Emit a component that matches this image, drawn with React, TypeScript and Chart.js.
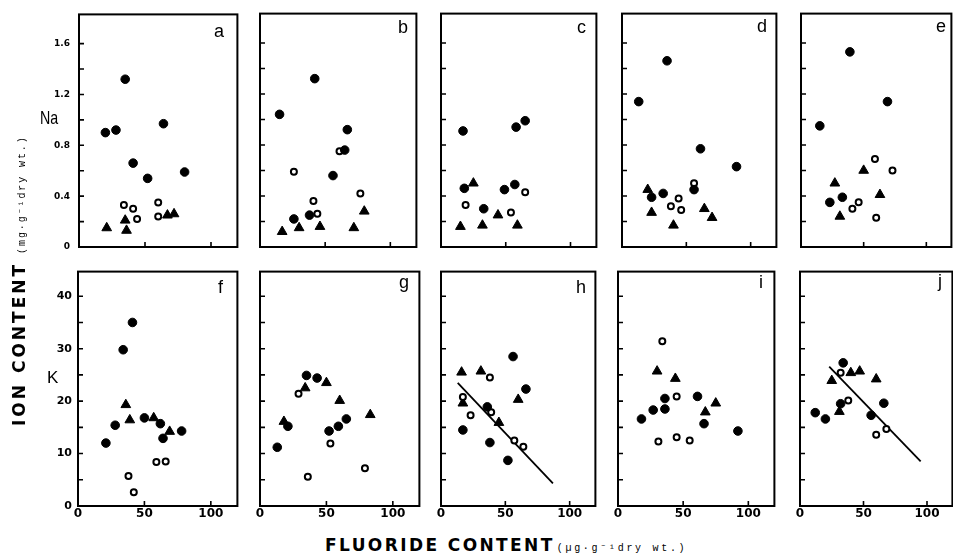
import React, { useEffect, useRef } from "react";
import { Chart, registerables } from "chart.js";
Chart.register(...registerables);

type Pt = [number, number];

// ---- axes ----
const xRange: Pt = [0, 120];
const xTickValues = [0, 50, 100];
const xTickLabels = ["0", "50", "100"];
const naRange: Pt = [0, 1.83];
const naTickValues = [0, 0.2, 0.4, 0.6, 0.8, 1.0, 1.2, 1.4, 1.6];
const naTickLabels = ["0", "0.4", "0.8", "1.2", "1.6"];
const kRange: Pt = [0, 44.7];
const kTickValues = [0, 5, 10, 15, 20, 25, 30, 35, 40];
const kTickLabels = ["0", "10", "20", "30", "40"];

// ---- Na panels (a-e) ----
const aFilled: Pt[] = [[35, 1.32], [20, 0.9], [28, 0.92], [64, 0.97], [41, 0.66], [52, 0.54], [80, 0.59]];
const aOpen: Pt[] = [[34, 0.33], [41, 0.3], [44, 0.22], [60, 0.35], [60, 0.24]];
const aTri: Pt[] = [[21, 0.15], [35, 0.21], [36, 0.13], [67, 0.25], [72, 0.26]];

const bFilled: Pt[] = [[42, 1.32], [15, 1.04], [67, 0.92], [65, 0.76], [56, 0.56], [26, 0.22], [38, 0.25]];
const bOpen: Pt[] = [[26, 0.59], [41, 0.36], [44, 0.26], [77, 0.42], [61, 0.75]];
const bTri: Pt[] = [[17, 0.12], [30, 0.15], [46, 0.16], [72, 0.15], [80, 0.28]];

const cFilled: Pt[] = [[17, 0.91], [58, 0.94], [65, 0.99], [18, 0.46], [49, 0.45], [57, 0.49], [33, 0.3]];
const cOpen: Pt[] = [[19, 0.33], [65, 0.43], [54, 0.27]];
const cTri: Pt[] = [[25, 0.5], [15, 0.16], [32, 0.17], [44, 0.25], [59, 0.17]];

const dFilled: Pt[] = [[35, 1.46], [13, 1.14], [61, 0.77], [89, 0.63], [32, 0.42], [23, 0.39], [56, 0.45]];
const dOpen: Pt[] = [[56, 0.5], [44, 0.38], [38, 0.32], [46, 0.29]];
const dTri: Pt[] = [[20, 0.45], [23, 0.27], [40, 0.17], [64, 0.3], [70, 0.23]];

const eFilled: Pt[] = [[39, 1.53], [69, 1.14], [15, 0.95], [23, 0.35], [33, 0.39]];
const eOpen: Pt[] = [[59, 0.69], [73, 0.6], [46, 0.35], [41, 0.3], [60, 0.23]];
const eTri: Pt[] = [[27, 0.5], [50, 0.6], [63, 0.41], [31, 0.24]];

// ---- K panels (f-j) ----
const fFilled: Pt[] = [[41, 35.0], [34, 29.8], [21, 12.0], [28, 15.4], [50, 16.8], [62, 15.7], [64, 12.9], [78, 14.3]];
const fOpen: Pt[] = [[38, 5.7], [42, 2.6], [59, 8.4], [66, 8.5]];
const fTri: Pt[] = [[36, 19.3], [39, 16.4], [57, 16.8], [69, 14.2]];

const gFilled: Pt[] = [[13, 11.2], [21, 15.2], [35, 24.9], [43, 24.4], [52, 14.3], [59, 15.2], [65, 16.6]];
const gOpen: Pt[] = [[29, 21.4], [53, 11.9], [36, 5.6], [79, 7.2]];
const gTri: Pt[] = [[18, 16.1], [34, 22.5], [50, 23.5], [60, 20.1], [83, 17.4]];

const hFilled: Pt[] = [[56, 28.5], [66, 22.3], [17, 14.5], [36, 18.9], [38, 12.1], [52, 8.7]];
const hOpen: Pt[] = [[38, 24.5], [17, 20.8], [23, 17.3], [39, 17.9], [57, 12.5], [64, 11.3]];
const hTri: Pt[] = [[16, 25.5], [31, 25.7], [17, 19.6], [45, 15.9], [60, 20.3]];
const hFit: Pt[] = [[13, 23.5], [87, 4.3]];

const iFilled: Pt[] = [[18, 16.6], [27, 18.3], [36, 20.5], [36, 18.5], [61, 20.9], [66, 15.7], [92, 14.3]];
const iOpen: Pt[] = [[34, 31.4], [45, 20.9], [31, 12.3], [45, 13.1], [55, 12.5]];
const iTri: Pt[] = [[30, 25.7], [44, 24.3], [67, 17.9], [75, 19.6]];

const jFilled: Pt[] = [[12, 17.8], [20, 16.6], [34, 27.3], [56, 17.3], [66, 19.6], [32, 19.5]];
const jOpen: Pt[] = [[32, 25.4], [38, 20.1], [60, 13.6], [68, 14.7]];
const jTri: Pt[] = [[25, 23.9], [31, 18.0], [40, 25.4], [47, 25.7], [60, 24.2]];
const jFit: Pt[] = [[23, 26.6], [95, 8.5]];

interface PanelDef {
  letter: string;
  ion: "Na" | "K";
  filled: Pt[];
  open: Pt[];
  tri: Pt[];
  fit?: Pt[];
}

const panelDefs: PanelDef[] = [
  { letter: "a", ion: "Na", filled: aFilled, open: aOpen, tri: aTri },
  { letter: "b", ion: "Na", filled: bFilled, open: bOpen, tri: bTri },
  { letter: "c", ion: "Na", filled: cFilled, open: cOpen, tri: cTri },
  { letter: "d", ion: "Na", filled: dFilled, open: dOpen, tri: dTri },
  { letter: "e", ion: "Na", filled: eFilled, open: eOpen, tri: eTri },
  { letter: "f", ion: "K", filled: fFilled, open: fOpen, tri: fTri },
  { letter: "g", ion: "K", filled: gFilled, open: gOpen, tri: gTri },
  { letter: "h", ion: "K", filled: hFilled, open: hOpen, tri: hTri, fit: hFit },
  { letter: "i", ion: "K", filled: iFilled, open: iOpen, tri: iTri },
  { letter: "j", ion: "K", filled: jFilled, open: jOpen, tri: jTri, fit: jFit },
];

// ---- layout (pixels): plot box left, top, width, height ----
const boxes: number[][] = [
  [79, 14, 158, 233],
  [260, 14, 156, 233],
  [441, 14, 155, 233],
  [622, 14, 154, 233],
  [801, 14, 150, 233],
  [78, 272, 159, 234],
  [260, 272, 159, 234],
  [441, 272, 154, 234],
  [618, 272, 156, 234],
  [800, 272, 152, 234],
];
// panel letter positions (left, top)
const letterPos: number[][] = [
  [214, 22], [398, 18], [577, 18], [757, 17], [936, 17],
  [218, 278], [399, 273], [576, 278], [759, 273], [938, 272],
];

const PAD_L = 30;
const PAD_R = 2;
const PAD_T = 4;
const PAD_B = 20;

const framePlugin = {
  id: "frame",
  afterDraw(chart: any) {
    const { ctx, chartArea: a, scales } = chart;
    ctx.save();
    ctx.strokeStyle = "#000";
    ctx.lineWidth = 2;
    ctx.strokeRect(a.left, a.top, a.right - a.left, a.bottom - a.top);
    ctx.lineWidth = 1.6;
    ctx.beginPath();
    const ys = scales.y;
    ys.ticks.forEach((t: any) => {
      if (t.value <= ys.min || t.value >= ys.max) return;
      const py = ys.getPixelForValue(t.value);
      ctx.moveTo(a.left, py);
      ctx.lineTo(a.left + 5, py);
    });
    const xs = scales.x;
    xs.ticks.forEach((t: any) => {
      if (t.value <= xs.min || t.value >= xs.max) return;
      const px = xs.getPixelForValue(t.value);
      ctx.moveTo(px, a.bottom);
      ctx.lineTo(px, a.bottom - 5);
    });
    ctx.stroke();
    ctx.restore();
  },
};

const toXY = (pts: Pt[]) => pts.map(([x, y]) => ({ x, y }));

function makeConfig(def: PanelDef, showY: boolean, showX: boolean): any {
  const isNa = def.ion === "Na";
  const yVals = isNa ? naTickValues : kTickValues;
  const yLabels = isNa ? naTickLabels : kTickLabels;
  const yRange = isNa ? naRange : kRange;
  const fmtY = (v: number) => (isNa ? (v === 0 ? "0" : v.toFixed(1)) : String(v));

  const datasets: any[] = [
    {
      label: "filled",
      data: toXY(def.filled),
      pointStyle: "circle",
      pointRadius: 4.3,
      pointBackgroundColor: "#000",
      pointBorderColor: "#000",
      pointBorderWidth: 1,
    },
    {
      label: "open",
      data: toXY(def.open),
      pointStyle: "circle",
      pointRadius: 3,
      pointBackgroundColor: "#fff",
      pointBorderColor: "#000",
      pointBorderWidth: 2,
    },
    {
      label: "triangle",
      data: toXY(def.tri),
      pointStyle: "triangle",
      pointRadius: 5.6,
      pointBackgroundColor: "#000",
      pointBorderColor: "#000",
      pointBorderWidth: 1,
    },
  ];
  if (def.fit) {
    datasets.push({
      label: "fit",
      data: toXY(def.fit),
      showLine: true,
      borderColor: "#000",
      borderWidth: 1.8,
      pointRadius: 0,
      fill: false,
    });
  }

  return {
    type: "scatter",
    data: { datasets },
    options: {
      animation: false,
      responsive: false,
      maintainAspectRatio: false,
      devicePixelRatio: 1,
      events: [],
      layout: { padding: { top: PAD_T, right: PAD_R, left: 0, bottom: 0 } },
      plugins: { legend: { display: false }, tooltip: { enabled: false }, title: { display: false } },
      scales: {
        x: {
          type: "linear",
          min: xRange[0],
          max: xRange[1],
          grid: { display: false, drawTicks: false },
          border: { display: false },
          afterBuildTicks: (s: any) => {
            s.ticks = xTickValues.map((v) => ({ value: v }));
          },
          afterFit: (s: any) => {
            s.height = PAD_B;
          },
          ticks: {
            display: showX,
            padding: 1,
            autoSkip: false,
            maxRotation: 0,
            color: "#000",
            font: { family: "DejaVu Sans", weight: "bold", size: 12 },
            callback: (v: number) => {
              const i = xTickValues.indexOf(v);
              return i >= 0 ? xTickLabels[i] : "";
            },
          },
        },
        y: {
          type: "linear",
          min: yRange[0],
          max: yRange[1],
          grid: { display: false, drawTicks: false },
          border: { display: false },
          afterBuildTicks: (s: any) => {
            s.ticks = yVals.map((v) => ({ value: v }));
          },
          afterFit: (s: any) => {
            s.width = PAD_L;
          },
          ticks: {
            display: showY,
            padding: isNa ? 9 : 6,
            autoSkip: false,
            color: "#000",
            font: { family: "DejaVu Sans", weight: "bold", size: isNa ? 9 : 11 },
            callback: (v: number) => {
              const s = fmtY(v);
              return yLabels.includes(s) ? s : "";
            },
          },
        },
      },
    },
    plugins: [framePlugin],
  };
}

function Panel({ def, box, showY, showX }: { def: PanelDef; box: number[]; showY: boolean; showX: boolean }) {
  const ref = useRef<HTMLCanvasElement>(null);
  const [l, t, w, h] = box;
  const cw0 = w + PAD_L + PAD_R;
  const ch0 = h + PAD_T + PAD_B;
  useEffect(() => {
    const canvas = ref.current as HTMLCanvasElement;
    const chart = new Chart(canvas, makeConfig(def, showY, showX));
    // make the plot area land exactly on the box
    let a = chart.chartArea;
    const nw = Math.round(canvas.width + (w - (a.right - a.left)));
    const nh = Math.round(canvas.height + (h - (a.bottom - a.top)));
    if (nw !== canvas.width || nh !== canvas.height) {
      chart.resize(nw, nh);
      canvas.style.width = nw + "px";
      canvas.style.height = nh + "px";
    }
    a = chart.chartArea;
    canvas.style.left = l - a.left + "px";
    canvas.style.top = t - a.top + "px";
    return () => chart.destroy();
  }, []);
  return (
    <canvas
      ref={ref}
      width={cw0}
      height={ch0}
      style={{ position: "absolute", left: l - PAD_L, top: t - PAD_T, width: cw0, height: ch0 }}
    />
  );
}

export default function App() {
  return (
    <div
      style={{
        position: "absolute",
        left: 0,
        top: 0,
        width: 953,
        height: 554,
        background: "#fff",
        overflow: "hidden",
        color: "#000",
      }}
    >
      {panelDefs.map((def, i) => (
        <Panel key={def.letter} def={def} box={boxes[i]} showY={i === 0 || i === 5} showX={i >= 5} />
      ))}
      {panelDefs.map((def, i) => (
        <div
          key={"l" + def.letter}
          style={{
            position: "absolute",
            left: letterPos[i][0],
            top: letterPos[i][1],
            fontFamily: "Liberation Sans, Arial, sans-serif",
            fontSize: 18,
            lineHeight: 1,
          }}
        >
          {def.letter}
        </div>
      ))}
      <div
        style={{
          position: "absolute",
          left: 40,
          top: 108,
          fontFamily: "Liberation Sans, Arial, sans-serif",
          fontSize: 19,
          lineHeight: 1,
          transform: "scaleX(0.75)",
          transformOrigin: "0 0",
        }}
      >
        Na
      </div>
      <div
        style={{
          position: "absolute",
          left: 47,
          top: 369,
          fontFamily: "Liberation Sans, Arial, sans-serif",
          fontSize: 17,
          lineHeight: 1,
        }}
      >
        K
      </div>
      <div
        style={{
          position: "absolute",
          left: 10.5,
          top: 426,
          transform: "rotate(-90deg)",
          transformOrigin: "0 0",
          whiteSpace: "nowrap",
          lineHeight: 1,
          fontFamily: "DejaVu Sans, sans-serif",
          fontWeight: "bold",
          fontSize: 17,
          letterSpacing: 3,
        }}
      >
        ION CONTENT
        <span
          style={{
            fontFamily: "Liberation Mono, monospace",
            fontWeight: "normal",
            fontSize: 10,
            letterSpacing: 1.9,
            marginLeft: 8,
          }}
        >
          (mg·g⁻¹dry wt.)
        </span>
      </div>
      <div
        style={{
          position: "absolute",
          left: 325,
          top: 537,
          whiteSpace: "nowrap",
          lineHeight: 1,
          fontFamily: "DejaVu Sans, sans-serif",
          fontWeight: "bold",
          fontSize: 17,
          letterSpacing: 2.4,
        }}
      >
        FLUORIDE CONTENT
        <span
          style={{
            fontFamily: "Liberation Mono, monospace",
            fontWeight: "normal",
            fontSize: 10,
            letterSpacing: 2.7,
            marginLeft: 2,
          }}
        >
          (µg·g⁻¹dry wt.)
        </span>
      </div>
    </div>
  );
}
